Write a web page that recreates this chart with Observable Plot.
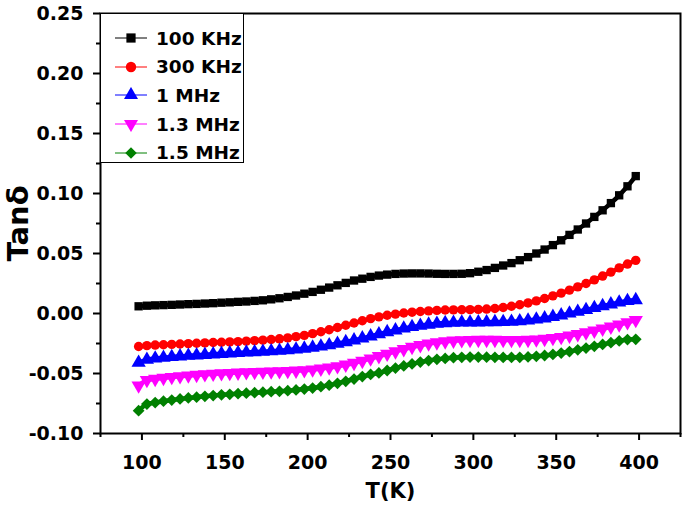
<!DOCTYPE html>
<html>
<head>
<meta charset="utf-8">
<script src="https://cdn.jsdelivr.net/npm/d3@7"></script>
<script src="https://cdn.jsdelivr.net/npm/@observablehq/plot@0.6"></script>
<style>
  html, body { margin: 0; padding: 0; background: #fff; }
  #wrap { position: relative; width: 685px; height: 507px; overflow: hidden; }
  #wrap svg text { font-family: "DejaVu Sans", sans-serif; font-weight: bold; }
  g[aria-label="y-axis label"] text { font-size: 29px; }
  g[aria-label="x-axis label"] text { font-size: 21px; }
  #legend { position: absolute; left: 100px; top: 13px; width: 144px; height: 150px;
    border: 1px solid #000; background: #fff; box-sizing: border-box; padding-top: 10px; }
  #legend .row { display: flex; align-items: center; height: 28.6px; }
  #legend .row span { font-family: "DejaVu Sans", sans-serif; font-weight: bold;
    font-size: 18.5px; color: #000; white-space: nowrap; }
</style>
</head>
<body>
<div id="wrap"></div>
<script>
const T = [98,103,108,113,118,123,128,133,138,143,148,153,158,163,168,173,178,183,188,193,
  198,203,208,213,218,223,228,233,238,243,248,253,258,263,268,273,278,283,288,293,
  298,303,308,313,318,323,328,333,338,343,348,353,358,363,368,373,378,383,388,393,398];

const tan100k = [0.006,0.0065,0.0068,0.007,0.0072,0.0075,0.0078,0.008,0.0083,0.0086,
  0.009,0.0093,0.0097,0.010,0.0105,0.011,0.0118,0.0127,0.0138,0.015,
  0.0165,0.018,0.0198,0.0216,0.0235,0.0255,0.0275,0.029,0.0305,0.0316,
  0.0324,0.033,0.0333,0.0334,0.0334,0.0333,0.0331,0.033,0.033,0.0331,
  0.0336,0.0348,0.0362,0.038,0.040,0.042,0.0444,0.047,0.050,0.0533,
  0.057,0.061,0.0655,0.070,0.075,0.0805,0.086,0.092,0.0985,0.106,0.1145];

const tan300k = [-0.0275,-0.0268,-0.0263,-0.026,-0.0257,-0.0254,-0.0251,-0.0248,-0.0245,-0.0242,
  -0.024,-0.0237,-0.0234,-0.023,-0.0226,-0.0222,-0.0217,-0.0211,-0.0203,-0.0193,
  -0.0182,-0.0168,-0.0152,-0.0135,-0.0117,-0.0098,-0.0079,-0.006,-0.0043,-0.0028,
  -0.0015,-0.0005,0.0004,0.0011,0.0017,0.0022,0.0026,0.0029,0.003,0.0031,
  0.0032,0.0034,0.0037,0.0042,0.005,0.006,0.0073,0.0088,0.0105,0.0125,
  0.0147,0.017,0.0195,0.0222,0.025,0.028,0.0312,0.0345,0.038,0.0412,0.0443];

const tan1M = [-0.041,-0.0385,-0.0375,-0.0368,-0.0362,-0.0357,-0.0352,-0.0348,-0.0344,-0.034,
  -0.0336,-0.0332,-0.0329,-0.0325,-0.0322,-0.0318,-0.0314,-0.031,-0.0305,-0.0299,
  -0.0292,-0.0284,-0.0275,-0.0264,-0.0252,-0.0238,-0.0223,-0.0207,-0.019,-0.0172,
  -0.0155,-0.014,-0.0125,-0.0112,-0.0101,-0.0092,-0.0085,-0.008,-0.0077,-0.0075,
  -0.0074,-0.0073,-0.0072,-0.0071,-0.007,-0.0068,-0.0064,-0.0058,-0.005,-0.004,
  -0.0028,-0.0015,0.0,0.0015,0.003,0.0046,0.0062,0.0077,0.0092,0.0105,0.0112];

const tan13M = [-0.060,-0.0555,-0.0545,-0.0537,-0.053,-0.0523,-0.0517,-0.0512,-0.0507,-0.0503,
  -0.0499,-0.0496,-0.0493,-0.049,-0.0488,-0.0486,-0.0484,-0.0482,-0.048,-0.0477,
  -0.0473,-0.0467,-0.046,-0.0451,-0.044,-0.0427,-0.0412,-0.0395,-0.0376,-0.0356,
  -0.0336,-0.0316,-0.0297,-0.0279,-0.0264,-0.0251,-0.0241,-0.0233,-0.0227,-0.0223,
  -0.0221,-0.022,-0.022,-0.022,-0.0221,-0.0221,-0.0221,-0.022,-0.0217,-0.0212,
  -0.0205,-0.0196,-0.0185,-0.0172,-0.0158,-0.0143,-0.0127,-0.011,-0.0092,-0.0074,-0.0055];

const tan15M = [-0.081,-0.0755,-0.0742,-0.0731,-0.0721,-0.0712,-0.0704,-0.0697,-0.069,-0.0684,
  -0.0678,-0.0673,-0.0668,-0.0664,-0.066,-0.0656,-0.0652,-0.0648,-0.0643,-0.0637,
  -0.063,-0.0621,-0.061,-0.0597,-0.0582,-0.0565,-0.0546,-0.0526,-0.0508,-0.0495,
  -0.0475,-0.0455,-0.0437,-0.042,-0.0405,-0.0392,-0.0382,-0.0374,-0.0368,-0.0365,
  -0.0363,-0.0363,-0.0364,-0.0365,-0.0366,-0.0366,-0.0365,-0.0362,-0.0357,-0.035,
  -0.0341,-0.033,-0.0317,-0.0303,-0.0288,-0.0273,-0.0258,-0.0243,-0.0229,-0.0217,-0.0215];

const seriesNames = ["100 KHz", "300 KHz", "1 MHz", "1.3 MHz", "1.5 MHz"];
const seriesValues = [tan100k, tan300k, tan1M, tan13M, tan15M];
const seriesColors = ["#000000", "#ff0000", "#0000ff", "#ff00ff", "#008000"];
const seriesSymbols = ["square", "circle", "triangle", "triangle", "diamond2"];
const seriesRotate = [0, 0, 0, 180, 0];

const xTicks = [100, 150, 200, 250, 300, 350, 400];
const xMinor = [75, 125, 175, 225, 275, 325, 375, 425];
const yTicks = [-0.10, -0.05, 0.00, 0.05, 0.10, 0.15, 0.20, 0.25];
const yMinor = [-0.075, -0.025, 0.025, 0.075, 0.125, 0.175, 0.225];

const rows = [];
seriesNames.forEach((name, i) => {
  T.forEach((t, j) => rows.push({series: name, idx: i, T: t, v: seriesValues[i][j]}));
});

const marks = [];
seriesNames.forEach((name, i) => {
  const d = rows.filter(r => r.idx === i);
  marks.push(Plot.line(d, {x: "T", y: "v", stroke: seriesColors[i], strokeWidth: 4.5, curve: "monotone-x"}));
  marks.push(Plot.dot(d, {x: "T", y: "v", fill: seriesColors[i], stroke: "none",
    symbol: seriesSymbols[i], r: i <= 1 ? 4.7 : 5.3, rotate: seriesRotate[i]}));
});

const chart = Plot.plot({
  width: 685,
  height: 507,
  marginLeft: 100,
  marginRight: 5,
  marginTop: 13,
  marginBottom: 74,
  style: {fontFamily: "DejaVu Sans, sans-serif", fontSize: "19px", fontWeight: "bold", color: "#000", background: "#fff"},
  x: {domain: [75, 425]},
  y: {domain: [-0.10, 0.25]},
  marks: [
    ...marks,
    Plot.frame({stroke: "#000", strokeWidth: 2}),
    Plot.axisY({ticks: yTicks, tickFormat: d => d.toFixed(2), tickSize: 7, tickPadding: 10, strokeWidth: 2,
      fontSize: 19, label: "Tanδ", labelArrow: "none", labelAnchor: "center", labelOffset: 93, fill: "#000"}),
    Plot.axisY({ticks: yMinor, tickFormat: () => "", tickSize: 4, strokeWidth: 2, label: null}),
    Plot.axisX({ticks: xTicks, tickFormat: d => String(d), tickSize: 7, tickPadding: 15, strokeWidth: 2,
      fontSize: 19, label: "T(K)", labelArrow: "none", labelAnchor: "center", labelOffset: 64, fill: "#000"}),
    Plot.axisX({ticks: xMinor, tickFormat: () => "", tickSize: 4, strokeWidth: 2, label: null})
  ]
});

const wrap = document.getElementById("wrap");
wrap.appendChild(chart);

// Legend (HTML overlay, upper left inside the frame)
const legend = document.createElement("div");
legend.id = "legend";
const symMap = {square: d3.symbolSquare, circle: d3.symbolCircle, triangle: d3.symbolTriangle, diamond2: d3.symbolDiamond2};
seriesNames.forEach((name, i) => {
  const row = document.createElement("div");
  row.className = "row";
  const svg = d3.create("svg").attr("width", 48).attr("height", 16).style("display", "block");
  svg.append("line").attr("x1", 14).attr("x2", 46).attr("y1", 8).attr("y2", 8)
    .attr("stroke", seriesColors[i]).attr("stroke-width", 1);
  svg.append("path")
    .attr("d", d3.symbol(symMap[seriesSymbols[i]], 85)())
    .attr("transform", `translate(30,8) rotate(${seriesRotate[i]})`)
    .attr("fill", seriesColors[i]);
  row.appendChild(svg.node());
  const span = document.createElement("span");
  span.textContent = name;
  span.style.marginLeft = "7px";
  row.appendChild(span);
  legend.appendChild(row);
});
wrap.appendChild(legend);
</script>
</body>
</html>
